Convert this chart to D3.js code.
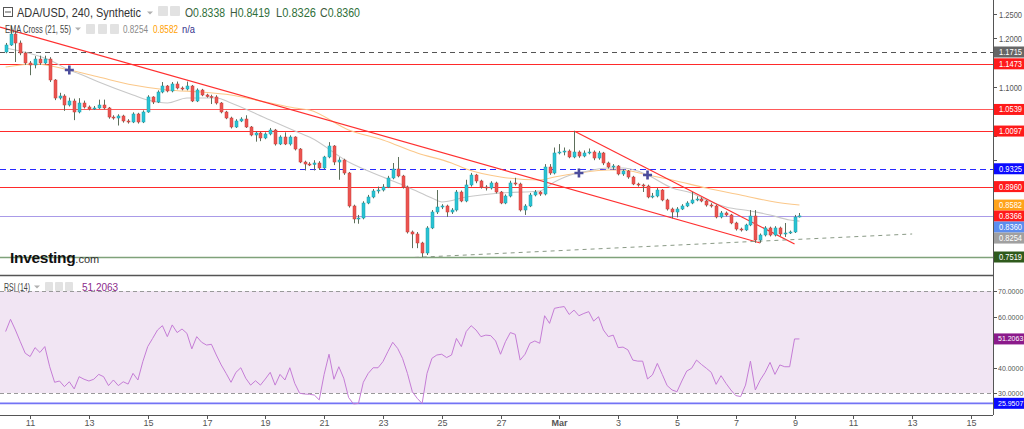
<!DOCTYPE html>
<html><head><meta charset="utf-8">
<script src="https://cdn.jsdelivr.net/npm/d3@7"></script>
<style>body{margin:0;background:#fff;overflow:hidden}svg{display:block;font-family:Arial,"Liberation Sans",sans-serif}</style>
</head><body><svg id="c" width="1024" height="429"></svg>
<script>
// ---------------- DATA ----------------
const firstBarTime = Date.UTC(2022, 1, 10, 4, 0); // 240-min bars
const firstOpen = 1.1715;
const closes = [1.1858,1.2083,1.1899,1.1694,1.1490,1.1449,1.1571,1.1490,1.1571,1.1142,
1.0773,1.0814,1.0630,1.0712,1.0487,1.0671,1.0589,1.0548,1.0569,1.0630,
1.0569,1.0384,1.0364,1.0405,1.0303,1.0282,1.0446,1.0282,1.0487,1.0794,
1.0691,1.0896,1.1019,1.0917,1.1060,1.0978,1.0957,1.1019,1.0712,1.0937,
1.0835,1.0804,1.0794,1.0671,1.0487,1.0364,1.0180,1.0303,1.0343,1.0180,
1.0016,1.0057,0.9955,1.0037,1.0118,0.9832,0.9975,0.9832,0.9975,0.9729,
0.9463,0.9422,0.9412,0.9443,0.9341,0.9566,0.9791,0.9463,0.9504,0.9238,
0.8563,0.8297,0.8317,0.8624,0.8747,0.8870,0.8890,0.8952,0.9136,0.9320,
0.9177,0.8952,0.8031,0.7990,0.7806,0.7601,0.8113,0.8440,0.8542,0.8563,
0.8440,0.8481,0.8849,0.8665,0.8993,0.9197,0.9075,0.8952,0.8931,0.9034,
0.8849,0.8624,0.8767,0.9034,0.9013,0.8481,0.8563,0.8788,0.8849,0.8808,
0.9361,0.9238,0.9648,0.9668,0.9688,0.9566,0.9668,0.9586,0.9648,0.9668,
0.9545,0.9648,0.9443,0.9361,0.9381,0.9218,0.9279,0.9156,0.9013,0.8993,
0.8972,0.8747,0.8767,0.8890,0.8686,0.8501,0.8440,0.8501,0.8563,0.8624,
0.8686,0.8706,0.8665,0.8583,0.8563,0.8338,0.8420,0.8379,0.8215,0.8092,
0.8072,0.8174,0.8358,0.7867,0.7969,0.8113,0.7969,0.8113,0.7990,0.8010,
0.8031,0.8338,0.8360];
const highs = [1.1900,1.2250,1.2120,1.1950,1.1720,1.1530,1.1630,1.1640,1.1640,1.1610,
1.1160,1.0880,1.0850,1.0780,1.0760,1.0770,1.0720,1.0620,1.0610,1.0740,
1.0740,1.0590,1.0420,1.0440,1.0430,1.0340,1.0480,1.0470,1.0520,1.0830,
1.0810,1.0930,1.1100,1.1040,1.1100,1.1110,1.1010,1.1110,1.1040,1.0970,
1.0960,1.0860,1.0840,1.0830,1.0690,1.0510,1.0390,1.0340,1.0380,1.0420,
1.0200,1.0090,1.0080,1.0070,1.0160,1.0140,1.0010,1.0070,1.0010,0.9990,
0.9750,0.9490,0.9460,0.9500,0.9480,0.9590,0.9870,0.9810,0.9560,0.9530,
0.9260,0.8590,0.8380,0.8660,0.8790,0.8910,0.8960,0.9010,0.9180,0.9443,
0.9566,0.9200,0.8980,0.8060,0.8030,0.7830,0.8150,0.8480,0.8890,0.8600,
0.8590,0.8520,0.8890,0.8880,0.9100,0.9240,0.9220,0.9100,0.8990,0.9070,
0.9060,0.8870,0.8800,0.9080,0.9140,0.9040,0.8600,0.8830,0.8890,0.8870,
0.9420,0.9420,0.9760,0.9830,0.9760,0.9720,1.0097,0.9700,0.9700,0.9740,
0.9700,0.9690,0.9670,0.9470,0.9420,0.9400,0.9320,0.9300,0.9180,0.9040,
0.9020,0.9000,0.8830,0.8930,0.8910,0.8710,0.8530,0.8540,0.8600,0.8660,
0.8850,0.8760,0.8740,0.8690,0.8620,0.8590,0.8460,0.8450,0.8400,0.8240,
0.8120,0.8200,0.8480,0.8480,0.8000,0.8150,0.8140,0.8150,0.8140,0.8215,
0.8060,0.8380,0.8419];
const lows = [1.1690,1.1840,1.1510,1.1650,1.1450,1.1240,1.1380,1.1450,1.1460,1.1100,
1.0730,1.0740,1.0510,1.0600,1.0320,1.0460,1.0560,1.0520,1.0530,1.0550,
1.0540,1.0350,1.0330,1.0210,1.0270,1.0250,1.0260,1.0250,1.0260,1.0470,
1.0650,1.0670,1.0870,1.0890,1.0890,1.0950,1.0930,1.0930,1.0690,1.0690,
1.0810,1.0780,1.0650,1.0640,1.0460,1.0340,1.0150,1.0160,1.0280,1.0160,
0.9990,0.9880,0.9890,0.9930,1.0010,0.9800,0.9810,0.9810,0.9800,0.9700,
0.9440,0.9290,0.9380,0.9290,0.9300,0.9310,0.9540,0.9400,0.9100,0.9200,
0.8530,0.8210,0.8200,0.8290,0.8600,0.8720,0.8820,0.8860,0.8930,0.9110,
0.9150,0.8920,0.8000,0.7700,0.7700,0.7519,0.7560,0.8090,0.8400,0.8500,
0.8340,0.8400,0.8450,0.8640,0.8640,0.8960,0.9030,0.8920,0.8880,0.8900,
0.8820,0.8600,0.8600,0.8740,0.8980,0.8450,0.8380,0.8540,0.8760,0.8770,
0.8780,0.9200,0.9210,0.9620,0.9600,0.9540,0.9540,0.9550,0.9560,0.9620,
0.9500,0.9510,0.9400,0.9330,0.9300,0.9190,0.9180,0.9120,0.8990,0.8960,
0.8850,0.8720,0.8720,0.8740,0.8660,0.8470,0.8310,0.8330,0.8480,0.8540,
0.8600,0.8660,0.8640,0.8550,0.8530,0.8310,0.8310,0.8350,0.8190,0.8060,
0.8040,0.8050,0.8150,0.7810,0.7810,0.7940,0.7940,0.7940,0.7950,0.7930,
0.7990,0.8010,0.8326];
const rsi = [54.1,58.9,54.7,50.1,45.6,44.3,47.8,45.9,48.2,40.3,
34.2,34.7,32.5,34.4,31.6,36.4,35.4,34.7,35.4,37.3,
36.4,32.9,35.1,32.9,34.4,33.5,37.7,35.1,42.3,48.2,
51.4,54.7,56.4,52.1,56.7,53.7,55.1,53.4,47.3,52.1,
49.9,48.8,49.1,44.9,41.0,37.7,34.2,38.1,39.9,35.8,
33.1,34.8,33.1,35.5,38.1,33.1,37.3,35.1,39.9,33.8,
29.9,29.6,29.5,29.2,27.3,37.3,45.2,35.4,40.3,35.8,
28.2,25.7,25.9,34.2,37.7,39.9,39.9,42.3,46.2,49.9,
47.5,43.6,37.7,30.5,27.9,25.9,37.7,43.6,44.9,45.2,
43.9,44.9,51.4,48.2,54.1,56.4,54.7,52.1,52.7,52.5,
50.4,45.2,50.1,53.7,53.0,42.9,45.2,49.5,50.4,49.5,
60.3,57.3,63.2,63.6,63.9,60.8,62.5,60.3,61.2,61.9,
58.2,59.9,54.7,52.1,52.7,47.8,48.0,46.9,42.9,42.5,
42.5,35.5,37.1,41.6,37.3,32.9,31.2,30.5,34.7,38.6,
39.7,42.9,41.2,39.7,38.1,33.4,36.8,33.8,31.2,29.0,
28.6,33.1,42.5,31.2,35.1,38.1,42.0,37.3,41.0,40.3,
40.3,51.2,51.2063];
// EMA readings [bar index, value]
const ema21 = [[0,1.1797],[9,1.1551],[13,1.1346],[15,1.1270],[19,1.1101],[26,1.0835],[29,1.0732],[33,1.0671],[37,1.0773],[43,1.0773],[46,1.0671],[53,1.0364],[60,1.0057],[62,0.9975],[70,0.9463],[77,0.9156],[82,0.8952],[87,0.8727],[89,0.8645],[94,0.8747],[101,0.8829],[109,0.8870],[112,0.9054],[116,0.9218],[117,0.9238],[123,0.9340],[126,0.9340],[129,0.9279],[131,0.9197],[136,0.8931],[140,0.8829],[143,0.8686],[147,0.8543],[152,0.8461],[156,0.8379],[160,0.8276],[162,0.8254]];
const ema55 = [[0,1.1408],[6,1.1469],[13,1.1346],[19,1.1203],[26,1.1039],[33,1.0937],[40,1.0896],[46,1.0835],[53,1.0691],[59,1.0569],[62,1.0528],[70,1.0118],[77,0.9914],[84,0.9648],[91,0.9443],[94,0.9320],[101,0.9156],[109,0.9095],[112,0.9156],[117,0.9238],[123,0.9300],[126,0.9300],[131,0.9197],[136,0.9095],[143,0.8931],[150,0.8788],[157,0.8645],[162,0.8582]];
const emaCrosses = [[13,1.1346],[117,0.9238],[131,0.9197]];
const levelValues = [1.1715,1.1473,1.0539,1.0097,0.9325,0.8960,0.8366,0.7519];
const trendLines = [[[-1.14,1.2226],[154,0.7806]],[[116,1.0097],[161,0.7786]]];
const supportLine = [[83.5,0.7510],[185,0.7990]];
const priceTicks = [0.75,0.80,0.85,0.90,0.95,1.00,1.05,1.10,1.15,1.20,1.25];
const rsiTicks = [30,40,50,60,70];
const rsiLevels = [70,30];
const rsiLow = 25.9507;
const ohlcText = {O:"0.8338",H:"0.8419",L:"0.8326",C:"0.8360"};
const emaLast = {e21:0.8254, e55:0.8582};
const lastClose = 0.8360;

// ---------------- SCALES ----------------
const svg = d3.select("#c");
const W = 993;
const H4 = 4*3600*1000;
const barTime = i => new Date(firstBarTime + i*H4);
const x = d3.scaleUtc().domain([new Date(Date.UTC(2022,1,9,23,25)), new Date(Date.UTC(2022,2,15,18,0))]).range([0, W]);
const y = d3.scaleLinear().domain([0.7519, 1.1715]).range([257, 52]);
const yr = d3.scaleLinear().domain([30, 70]).range([393, 291]);
const xi = i => x(barTime(i));

const bars = closes.map((c,i)=>({i, o: i===0?firstOpen:closes[i-1], h: highs[i], l: lows[i], c}));

// ---------------- PRICE PANEL ----------------
const gP = svg.append("g");
const levelStyle = {
  1.1715:{c:"#555",dash:"5,4"},
  1.1473:{c:"#ff2a2a",dash:null},
  1.0539:{c:"#ff5a5a",dash:null},
  1.0097:{c:"#ff2a2a",dash:null},
  0.9325:{c:"#2a2aff",dash:"6,4"},
  0.8960:{c:"#ff2a2a",dash:null},
  0.8366:{c:"#a99be8",dash:null},
  0.7519:{c:"#7fa27a",dash:null}
};
levelValues.forEach(v=>{
  const s = levelStyle[v];
  gP.append("line").attr("x1",0).attr("x2",W).attr("y1",Math.round(y(v))+0.5).attr("y2",Math.round(y(v))+0.5)
    .attr("stroke",s.c).attr("stroke-width", v===0.7519?1.5:1).attr("stroke-dasharray",s.dash);
});

const lineGen = d3.line().x(d=>xi(d[0])).y(d=>y(d[1])).curve(d3.curveMonotoneX);
gP.append("path").attr("d",lineGen(ema55)).attr("fill","none").attr("stroke","#fbc88a").attr("stroke-width",1.1);
gP.append("path").attr("d",lineGen(ema21)).attr("fill","none").attr("stroke","#c8c8c8").attr("stroke-width",1.1);

const tl = d3.line().x(d=>xi(d[0])).y(d=>y(d[1]));
trendLines.forEach(t=>gP.append("path").attr("d",tl(t)).attr("stroke","#ff3030").attr("stroke-width",1.2).attr("fill","none"));
gP.append("path").attr("d",tl(supportLine)).attr("stroke","#8a9a86").attr("stroke-width",1).attr("stroke-dasharray","4,4").attr("fill","none");

const up="#29c3d3", dn="#ec5450";
const cg = gP.append("g");
bars.forEach(b=>{
  const cx = Math.round(xi(b.i))+0.5;
  cg.append("line").attr("x1",cx).attr("x2",cx).attr("y1",y(b.h)).attr("y2",y(b.l)).attr("stroke","#5d6f5b").attr("stroke-width",1);
  const top = y(Math.max(b.o,b.c)), bot = y(Math.min(b.o,b.c));
  const isUp = b.c>=b.o;
  cg.append("rect").attr("x",cx-1.5).attr("y",top).attr("width",3).attr("height",Math.max(1,bot-top))
    .attr("fill",isUp?up:dn).attr("stroke",isUp?"#1f9fac":"#c9403c").attr("stroke-width",0.5);
});

emaCrosses.forEach(d=>{
  const cx=xi(d[0]), cy=y(d[1]);
  gP.append("path").attr("d",`M${cx-4.5},${cy}H${cx+4.5}M${cx},${cy-4.5}V${cy+4.5}`).attr("stroke","#4b4c9c").attr("stroke-width",2.6);
});

const caret = (g, cx, cy) => g.append("path").attr("d",`M${cx-3},${cy-1.5}L${cx+3},${cy-1.5}L${cx},${cy+1.5}Z`).attr("fill","#b0b0b0");

// header
const hd = svg.append("g");
hd.append("rect").attr("x",3.5).attr("y",7.5).attr("width",9).attr("height",9).attr("fill","none").attr("stroke","#555");
hd.append("line").attr("x1",5).attr("x2",11).attr("y1",12).attr("y2",12).attr("stroke","#555");
hd.append("text").attr("x",17).attr("y",17).attr("font-size",13).attr("fill","#333")
  .attr("textLength",124).attr("lengthAdjust","spacingAndGlyphs").text("ADA/USD, 240, Synthetic");
caret(hd, 150, 13);
[158,170].forEach(xx=>hd.append("rect").attr("x",xx).attr("y",6).attr("width",10).attr("height",10).attr("rx",1).attr("fill","#e2e2e2"));
const ohlcKeys=["O","H","L","C"], ohlcX=[185,230,276,320];
ohlcKeys.forEach((k,j)=>{
  const t=hd.append("text").attr("x",ohlcX[j]).attr("y",17).attr("font-size",12).attr("fill","#2f6f3a")
    .attr("textLength",40).attr("lengthAdjust","spacingAndGlyphs");
  t.append("tspan").attr("fill","#3d5a40").text(k); t.append("tspan").text(ohlcText[k]);
});
hd.append("text").attr("x",5).attr("y",33).attr("font-size",10.5).attr("fill","#444")
  .attr("textLength",66).attr("lengthAdjust","spacingAndGlyphs").text("EMA Cross (21, 55)");
caret(hd, 78, 29);
[86,98,110].forEach(xx=>hd.append("rect").attr("x",xx).attr("y",24).attr("width",9).attr("height",10).attr("rx",1).attr("fill","#e2e2e2"));
const sm = (xx, txt, fill, len) => hd.append("text").attr("x",xx).attr("y",33).attr("font-size",10).attr("fill",fill)
  .attr("textLength",len).attr("lengthAdjust","spacingAndGlyphs").text(txt);
sm(123, emaLast.e21.toFixed(4), "#8a8a8a", 25);
sm(153, emaLast.e55.toFixed(4), "#ffa000", 25);
sm(182, "n/a", "#33338c", 13);

// logo
const lg = svg.append("text").attr("x",10).attr("y",263);
lg.append("tspan").attr("font-size",15.5).attr("font-weight","bold").attr("fill","#111").attr("letter-spacing","-0.3").text("Investing");
lg.append("tspan").attr("font-size",11).attr("fill","#333").text(".com");

svg.append("line").attr("x1",0).attr("x2",W).attr("y1",275.5).attr("y2",275.5).attr("stroke","#555").attr("stroke-width",1.5);

// ---------------- RSI PANEL ----------------
const gR = svg.append("g");
gR.append("rect").attr("x",0).attr("y",yr(70)).attr("width",W).attr("height",yr(30)-yr(70)).attr("fill","#f1e5f3");
rsiLevels.forEach(v=>gR.append("line").attr("x1",0).attr("x2",W).attr("y1",Math.round(yr(v))+0.5).attr("y2",Math.round(yr(v))+0.5)
  .attr("stroke","#999").attr("stroke-dasharray","4,3"));
gR.append("line").attr("x1",0).attr("x2",W).attr("y1",yr(rsiLow)).attr("y2",yr(rsiLow)).attr("stroke","#7373f5").attr("stroke-width",1.6);
gR.append("path").attr("d",d3.line().x((d,i)=>xi(i)).y(d=>yr(d))(rsi)).attr("fill","none").attr("stroke","#c57dd6").attr("stroke-width",1);
gR.append("text").attr("x",4).attr("y",291).attr("font-size",10).attr("fill","#444")
  .attr("textLength",26).attr("lengthAdjust","spacingAndGlyphs").text("RSI (14)");
caret(gR, 37, 287);
[45,55,65].forEach(xx=>gR.append("rect").attr("x",xx).attr("y",282).attr("width",8).attr("height",9).attr("rx",1).attr("fill","#e2e2e2"));
gR.append("text").attr("x",82).attr("y",291).attr("font-size",10).attr("fill","#8b2a8b").text(rsi[rsi.length-1].toFixed(4));

// ---------------- RIGHT LABEL POSITIONS ----------------
const labels = [
  {v:1.1715,bg:"#666"},{v:1.1473,bg:"#ff1a1a"},{v:1.0539,bg:"#ff1a1a"},{v:1.0097,bg:"#ff1a1a"},
  {v:0.9325,bg:"#0a0aff"},{v:0.8960,bg:"#ff1a1a"},{v:emaLast.e55,bg:"#ffa31a"},{v:0.8366,bg:"#ff1a1a"},
  {v:lastClose,bg:"#5b8def"},{v:emaLast.e21,bg:"#a0a0a0"},{v:0.7519,bg:"#2f5a1c"}
].map(d=>({...d, yy:y(d.v)})).sort((a,b)=>a.yy-b.yy);
let prev=-100;
labels.forEach(d=>{ d.ty=Math.max(d.yy, prev+11); prev=d.ty; });
const rsiLabels = [{v:rsi[rsi.length-1],bg:"#8b1a8b"},{v:rsiLow,bg:"#0a0aff"}].map(d=>({...d, ty:yr(d.v)}));
const allBadgeY = labels.map(d=>d.ty).concat(rsiLabels.map(d=>d.ty));
const hidden = yy => allBadgeY.some(b=>Math.abs(b-yy)<9.5);

// ---------------- AXES ----------------
svg.append("line").attr("x1",W+0.5).attr("x2",W+0.5).attr("y1",0).attr("y2",415).attr("stroke","#555");
svg.append("line").attr("x1",0).attr("x2",W).attr("y1",415.5).attr("y2",415.5).attr("stroke","#555");
const ax = svg.append("g");
const lbl = (g, xx, yy, txt, fill, len) => g.append("text").attr("x",xx).attr("y",yy).attr("font-size",8.5).attr("fill",fill)
  .attr("textLength",len).attr("lengthAdjust","spacingAndGlyphs").text(txt);
const lblR = (g, xx, yy, txt, fill) => g.append("text").attr("x",xx).attr("y",yy).attr("font-size",7).attr("fill",fill).text(txt);
priceTicks.forEach(v=>{
  const yy=Math.round(y(v))+0.5;
  ax.append("line").attr("x1",W).attr("x2",W+4).attr("y1",yy).attr("y2",yy).attr("stroke","#555");
  if(!hidden(yy)) lbl(ax, W+6, yy+3, v.toFixed(4), "#555", 23);
});
rsiTicks.forEach(v=>{
  const yy=Math.round(yr(v))+0.5;
  ax.append("line").attr("x1",W).attr("x2",W+4).attr("y1",yy).attr("y2",yy).attr("stroke","#555");
  if(!hidden(yy)) lblR(ax, W+5, yy+2.5, v.toFixed(4), "#555");
});
const dayTicks = d3.utcDay.range(new Date(Date.UTC(2022,1,11)), new Date(Date.UTC(2022,2,16))).filter(d=>{
  const m=d.getUTCMonth(), dd=d.getUTCDate(); return (m===1 && dd%2===1 && dd<28) || (m===2 && dd%2===1);});
dayTicks.forEach(d=>{
  const xx=Math.round(x(d))+0.5; const isMar = d.getUTCMonth()===2 && d.getUTCDate()===1;
  ax.append("line").attr("x1",xx).attr("x2",xx).attr("y1",415).attr("y2",419).attr("stroke","#555");
  ax.append("text").attr("x",xx).attr("y",426).attr("text-anchor","middle").attr("font-size",9).attr("fill","#555")
    .attr("font-weight",isMar?"bold":null).text(isMar?"Mar":d.getUTCDate());
});

// ---------------- RIGHT LABELS ----------------
labels.forEach(d=>{
  ax.append("rect").attr("x",W+1).attr("y",d.ty-5.5).attr("width",1024-W).attr("height",11).attr("fill",d.bg);
  lbl(ax, W+6, d.ty+3, d.v.toFixed(4), "#fff", 23);
});
rsiLabels.forEach(d=>{
  ax.append("rect").attr("x",W+1).attr("y",d.ty-5.5).attr("width",1024-W).attr("height",11).attr("fill",d.bg);
  lblR(ax, W+5, d.ty+2.5, d.v.toFixed(4), "#fff");
});
</script></body></html>
